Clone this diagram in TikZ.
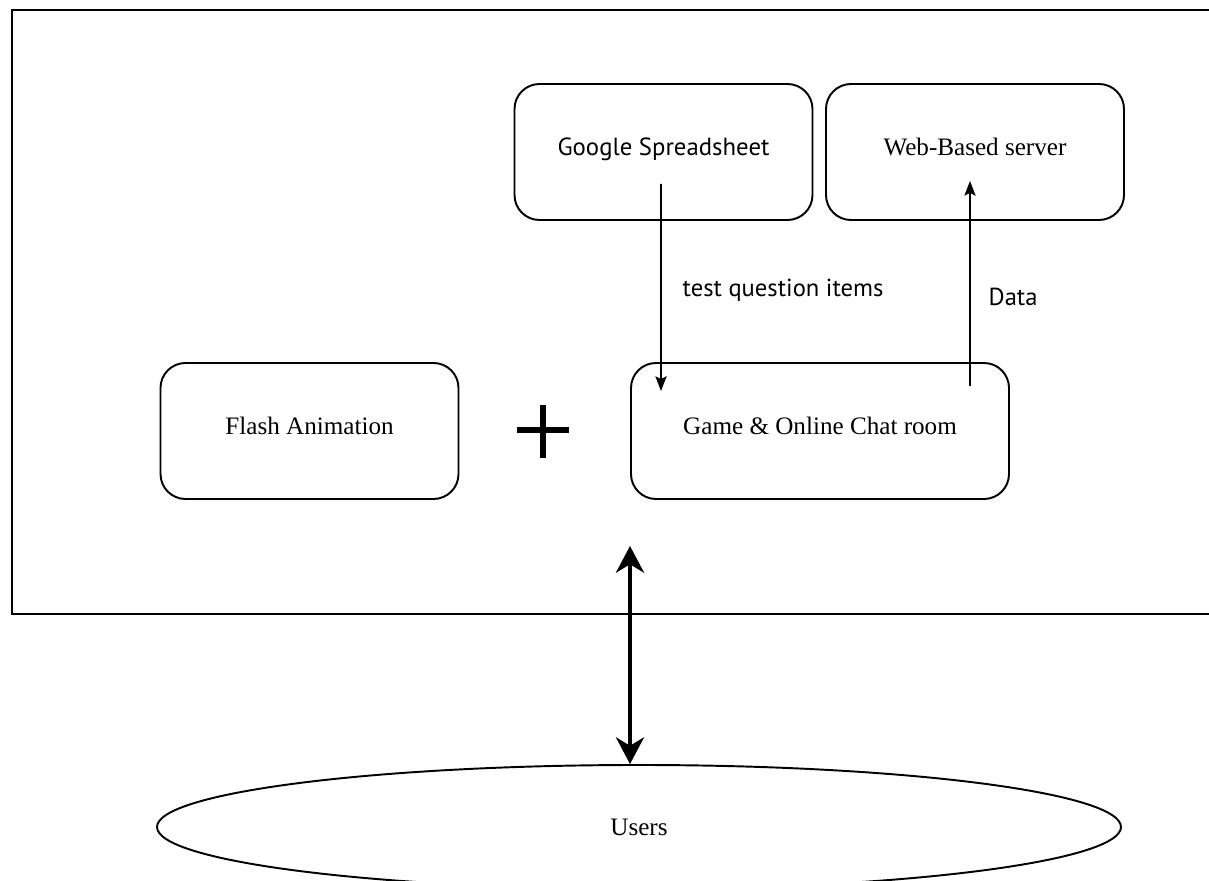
\documentclass[tikz,border=0pt]{standalone}
\usepackage{fontspec}
\setmainfont{Liberation Serif}
\newfontfamily\labelfont{PT Sans}
\usetikzlibrary{arrows.meta,shapes.geometric}

\begin{document}
\begin{tikzpicture}[line width=0.55pt,
    box/.style={draw, rounded corners=0.25cm, minimum width=2.98cm,
                minimum height=1.36cm, inner sep=0pt, text height=5.2pt, text depth=3.2pt,
                font=\fontsize{7.15}{8.5}\selectfont},
    thin/.style={-{Stealth[length=4.2pt,width=3.2pt,inset=0.8pt]}, line width=0.45pt},
    thick/.style={{Stealth[length=7.6pt,width=8pt,inset=2.4pt]}-{Stealth[length=7.6pt,width=8pt,inset=2.4pt]},
                  line width=1.1pt}]
    \useasboundingbox (0,0) rectangle (12.09,8.80);

    % frame around the system
    \draw (12.09,8.70) -- (0.12,8.70) -- (0.12,2.66) -- (12.09,2.66);

    \node[box] (sheet) at (6.635,7.28) {\labelfont\fontsize{7.05}{8.5}\selectfont Google Spreadsheet};
    \node[box] (web)   at (9.75,7.28)  {Web-Based server};
    \node[box] (flash) at (3.095,4.49) {Flash Animation};
    \node[box, minimum width=3.78cm] (game) at (8.20,4.49) {Game \& Online Chat room};

    % plus sign
    \draw[line width=1.45pt] (5.17,4.50) -- (5.69,4.50)
                             (5.43,4.75) -- (5.43,4.22);

    \node[ellipse, draw, minimum width=9.64cm, minimum height=1.24cm, inner sep=0pt,
          font=\fontsize{7.15}{8.5}\selectfont] (users) at (6.39,0.53) {Users};

    \node[anchor=west, font=\labelfont\fontsize{7.0}{8.5}\selectfont] (items) at (6.70,5.90) {test question items};
    \node[anchor=west, font=\labelfont\fontsize{7.0}{8.5}\selectfont] (data)  at (9.76,5.83) {Data};

    \coordinate (sys) at (6.30,3.34);

    \draw[thin] ([xshift=-0.025cm,yshift=0.37cm]sheet.south) -- ([xshift=-1.59cm,yshift=-0.29cm]game.north);
    \draw[thin] ([xshift=1.50cm,yshift=-0.24cm]game.north) -- ([xshift=-0.05cm,yshift=0.40cm]web.south);
    \draw[thick] (sys) -- (sys |- users.north);
\end{tikzpicture}
\end{document}
